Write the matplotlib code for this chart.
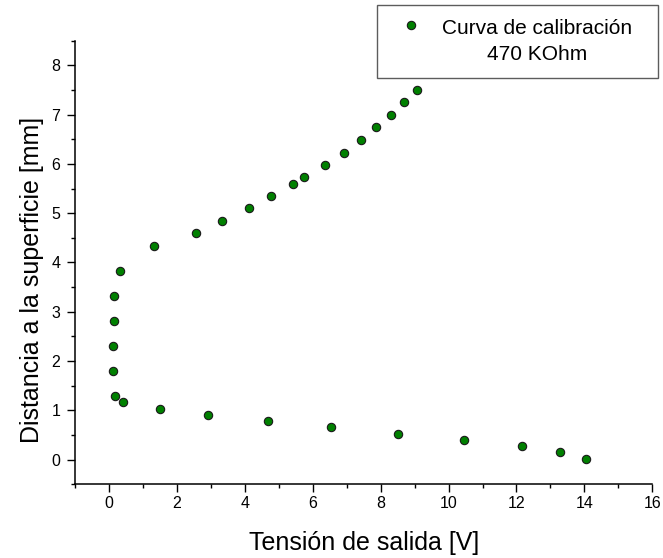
import matplotlib
matplotlib.use('Agg')
import matplotlib.pyplot as plt
from matplotlib.ticker import MultipleLocator
from matplotlib.legend_handler import HandlerLine2D

plt.rcParams['font.family'] = ['Liberation Sans', 'DejaVu Sans']

# Tension de salida [V] vs distancia [mm]
tension = [14.05, 13.27, 12.16, 10.45, 8.51, 6.55, 4.67, 2.93, 1.51, 0.40, 0.17,
           0.13, 0.13, 0.14, 0.15, 0.33, 1.34, 2.56, 3.32, 4.12, 4.76, 5.42, 5.74,
           6.35, 6.91, 7.42, 7.87, 8.30, 8.69, 9.06]
distancia = [0.02, 0.155, 0.28, 0.40, 0.53, 0.66, 0.78, 0.91, 1.03, 1.16, 1.29,
             1.80, 2.31, 2.81, 3.31, 3.83, 4.34, 4.59, 4.84, 5.10, 5.35, 5.60, 5.73,
             5.98, 6.23, 6.49, 6.74, 7.00, 7.25, 7.50]


class FirstLineHandler(HandlerLine2D):
    # put the marker next to the first line of a two line label
    def create_artists(self, legend, orig_handle, xdescent, ydescent,
                       width, height, fontsize, trans):
        arts = super().create_artists(legend, orig_handle, xdescent, ydescent,
                                      width, height, fontsize, trans)
        for a in arts:
            a.set_ydata([y + 0.8 * fontsize for y in a.get_ydata()])
        return arts


fig = plt.figure(figsize=(6.63, 5.58), dpi=100)
ax = fig.add_axes([0.1131, 0.1321, 0.8708, 0.7951])

pts, = ax.plot(tension, distancia, 'o', color='#008000', markeredgecolor='#1a1a1a',
               markeredgewidth=0.8, markersize=6,
               label='Curva de calibración\n470 KOhm')

ax.set_xlim(-1, 16)
ax.set_ylim(-0.5, 8.5)
ax.xaxis.set_major_locator(MultipleLocator(2))
ax.xaxis.set_minor_locator(MultipleLocator(1))
ax.yaxis.set_major_locator(MultipleLocator(1))
ax.yaxis.set_minor_locator(MultipleLocator(0.5))

for s in ['top', 'right']:
    ax.spines[s].set_visible(False)
for s in ['left', 'bottom']:
    ax.spines[s].set_linewidth(1.1)

ax.tick_params(which='major', direction='out', length=5.5, width=1.0,
               labelsize=11.5)
ax.tick_params(which='minor', direction='out', length=3, width=1.0)
ax.tick_params(axis='x', which='major', pad=3)
ax.tick_params(axis='y', which='major', pad=5)

ax.set_xlabel('Tensión de salida [V]', fontsize=18, labelpad=14)
ax.set_ylabel('Distancia a la superficie [mm]', fontsize=18, labelpad=5)
ax.yaxis.label.set_y(0.46)

leg = ax.legend(loc='upper left', bbox_to_anchor=(0.568, 0.862, 0.424, 0.129),
                bbox_transform=fig.transFigure, mode='expand', fontsize=15,
                frameon=True, fancybox=False, borderaxespad=0, borderpad=0.65,
                handletextpad=0.5, handlelength=2.0,
                handler_map={pts: FirstLineHandler()})
leg.get_frame().set_edgecolor('#333333')
leg.get_frame().set_linewidth(1.0)
for t in leg.get_texts():
    t.set_multialignment('center')
    t.set_linespacing(1.5)

fig.savefig('out.png', dpi=100)
